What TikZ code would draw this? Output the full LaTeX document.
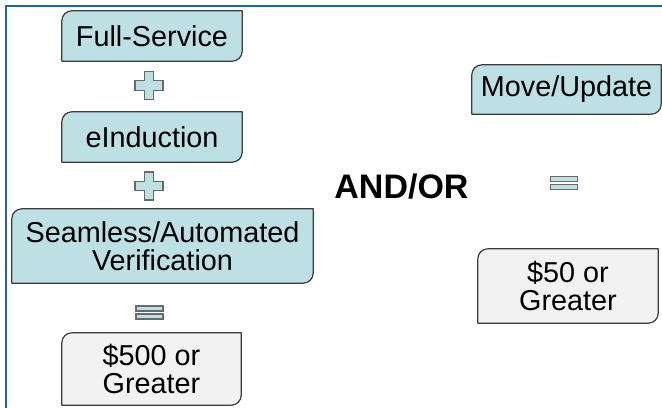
\documentclass[tikz,border=0pt]{standalone}
\usepackage{fontspec}
\setmainfont{Liberation Sans}
\usetikzlibrary{backgrounds}

\definecolor{frameblue}{RGB}{33,99,165}
\definecolor{tealfill}{RGB}{188,224,228}
\definecolor{greyfill}{RGB}{242,242,242}
\definecolor{edgegrey}{RGB}{60,60,60}
\definecolor{signgrey}{RGB}{105,105,105}

\tikzset{
  label box/.style={inner sep=0pt, align=center,
    font=\fontsize{28.8}{27.5}\selectfont},
  boxedge/.style={draw=edgegrey, line width=1.2pt, line join=round},
  signedge/.style={draw=signgrey, fill=tealfill, line width=1.3pt, line join=miter},
}

% box outline with the top-left and bottom-right corners rounded
\newcommand{\diagcornerbox}[2]{%
  \draw[boxedge, fill=#2] (#1.south west)
    -- ([yshift=-10pt]#1.north west) arc[start angle=180, end angle=90, radius=10pt]
    -- (#1.north east)
    -- ([yshift=10pt]#1.south east) arc[start angle=0, end angle=-90, radius=10pt]
    -- cycle;}

% plus sign centred on a named coordinate
\newcommand{\plussign}[1]{%
  \draw[signedge, shift={(#1)}]
    (-4.75,-14) -- (4.75,-14) -- (4.75,-4.75) -- (14,-4.75) -- (14,4.75)
    -- (4.75,4.75) -- (4.75,14) -- (-4.75,14) -- (-4.75,4.75) -- (-14,4.75)
    -- (-14,-4.75) -- (-4.75,-4.75) -- cycle;}

% equals sign centred on a named coordinate
\newcommand{\equalssign}[1]{%
  \draw[signedge, shift={(#1)}] (-13.5,1.5) rectangle (13.5,6.5);
  \draw[signedge, shift={(#1)}] (-13.5,-6.5) rectangle (13.5,-1.5);}

\begin{document}
\begin{tikzpicture}[x=1pt, y=1pt]
  \useasboundingbox (0,0) rectangle (662,408);

  % left column
  \node[label box, minimum width=180pt, minimum height=50pt] (full) at (152,372) {Full-Service};
  \node[label box, minimum width=180pt, minimum height=50pt] (eind) at (152,271) {eInduction};
  \node[label box, minimum width=301pt, minimum height=74pt] (seam) at (162.5,162) {Seamless/Automated\\Verification};
  \node[label box, minimum width=179pt, minimum height=72pt] (big) at (151.5,39) {\$500 or\\Greater};

  % right column
  \node[label box, minimum width=189pt, minimum height=49pt] (move) at (566.5,318.5) {Move/Update};
  \node[label box, minimum width=180pt, minimum height=74pt] (small) at (568,122) {\$50 or\\Greater};

  % connective between the two columns
  \node[inner sep=0pt, font=\fontsize{34}{34}\bfseries\selectfont] (andor) at (401.5,221.5) {AND/OR};

  \begin{scope}[on background layer]
    \fill[white] (0,0) rectangle (662,408);
    \diagcornerbox{full}{tealfill}
    \diagcornerbox{eind}{tealfill}
    \diagcornerbox{seam}{tealfill}
    \diagcornerbox{big}{greyfill}
    \diagcornerbox{move}{tealfill}
    \diagcornerbox{small}{greyfill}
  \end{scope}

  % frame lines along the top and left edges
  \draw[frameblue, line width=2pt] (6,0) -- (6,402) -- (662,402);

  % operator signs
  \coordinate (plusA) at (149,322.5);
  \coordinate (plusB) at (149,222);
  \coordinate (eqL) at (149.5,95.5);
  \coordinate (eqR) at (564,225);
  \plussign{plusA}
  \plussign{plusB}
  \equalssign{eqL}
  \equalssign{eqR}
\end{tikzpicture}
\end{document}
